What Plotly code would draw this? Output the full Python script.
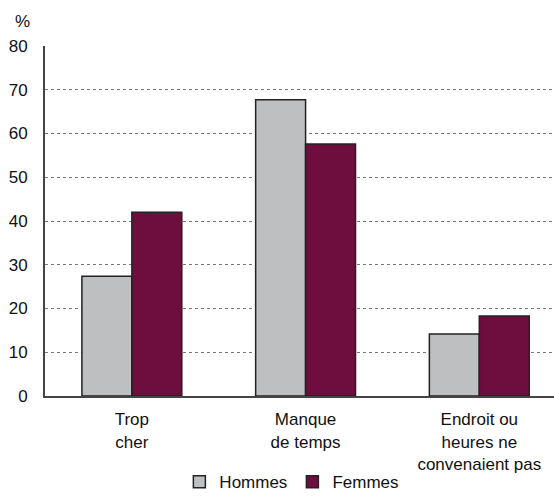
import plotly.graph_objects as go

categories = ["Trop<br>cher", "Manque<br>de temps", "Endroit ou<br>heures ne<br>convenaient pas"]
hommes = [27.4, 67.7, 14.2]
femmes = [42.0, 57.6, 18.3]
y_ticks = [0, 10, 20, 30, 40, 50, 60, 70, 80]

font = dict(family="Liberation Sans, Arial, sans-serif", size=17, color="#111")
outline = dict(color="#222", width=1.5)

fig = go.Figure()
fig.add_trace(go.Bar(name="Hommes", x=categories, y=hommes,
                     marker=dict(color="#BEBFC1", line=outline)))
fig.add_trace(go.Bar(name="Femmes", x=categories, y=femmes,
                     marker=dict(color="#6E0E3E", line=outline)))

fig.update_layout(
    width=554, height=496,
    margin=dict(l=45, r=0, t=46, b=100, autoexpand=False),
    barmode="group", bargap=0.425, bargroupgap=0,
    plot_bgcolor="white", paper_bgcolor="white",
    font=font,
    showlegend=True,
    legend=dict(orientation="h", x=0.485, xanchor="center",
                yref="container", y=0.028, yanchor="middle",
                font=dict(size=17), traceorder="normal"),
    annotations=[dict(text="%", xref="paper", yref="paper", x=0, y=1,
                      xanchor="right", yanchor="bottom", xshift=-13, yshift=13,
                      showarrow=False, font=dict(size=17))],
)
fig.update_xaxes(range=[-0.5, 2.43], showgrid=False, showline=True,
                 linecolor="#444", linewidth=2, ticks="", automargin=False,
                 ticklabelstandoff=7, tickfont=dict(size=17))
fig.update_yaxes(range=[0, 80], tickvals=y_ticks, showline=True, linecolor="#444",
                 linewidth=2, showgrid=True, gridcolor="#777", griddash="dot",
                 gridwidth=1, zeroline=False, ticks="", ticklabelstandoff=12,
                 automargin=False, tickfont=dict(size=17))

fig.write_html("out.html")
